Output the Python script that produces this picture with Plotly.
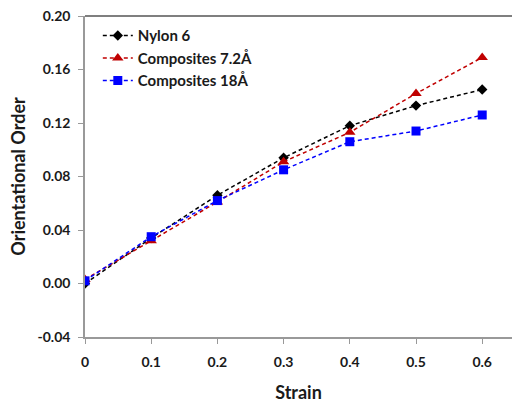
import plotly.graph_objects as go

strain = [0, 0.1, 0.2, 0.3, 0.4, 0.5, 0.6]
nylon6 = [0.000, 0.034, 0.066, 0.094, 0.118, 0.133, 0.145]
comp72 = [0.003, 0.032, 0.061, 0.091, 0.113, 0.142, 0.169]
comp18 = [0.002, 0.035, 0.062, 0.085, 0.106, 0.114, 0.126]

names = ["Nylon 6", "Composites 7.2Å", "Composites 18Å"]
series = [nylon6, comp72, comp18]
colors = ["#000000", "#C00000", "#0000FF"]
symbols = ["diamond", "triangle-up", "square"]
sizes = [8, 10, 9]

xticks = [0, 0.1, 0.2, 0.3, 0.4, 0.5, 0.6]
xticklabels = ["0", "0.1", "0.2", "0.3", "0.4", "0.5", "0.6"]
yticks = [-0.04, 0.0, 0.04, 0.08, 0.12, 0.16, 0.20]
yticklabels = ["-0.04", "0.00", "0.04", "0.08", "0.12", "0.16", "0.20"]

font = "Lato, 'Open Sans', sans-serif"

fig = go.Figure()
for n, s, c, sym, sz in zip(names, series, colors, symbols, sizes):
    fig.add_trace(go.Scatter(
        x=strain, y=s, name=n, mode="lines+markers",
        line=dict(color=c, dash="4px,3px", width=1.5),
        marker=dict(symbol=sym, size=sz, color=c),
    ))

fig.update_layout(
    width=512, height=403,
    margin=dict(l=85, r=0, t=16, b=66),
    plot_bgcolor="white", paper_bgcolor="white",
    font=dict(family=font, size=14, color="#1a1a1a"),
    legend=dict(x=0.03, y=0.99, xanchor="left", yanchor="top",
                bgcolor="rgba(0,0,0,0)",
                font=dict(family=font, size=15, color="#1a1a1a", weight="bold"),
                itemwidth=30, tracegroupgap=0),
    xaxis=dict(range=[0, 0.645], tickvals=xticks, ticktext=xticklabels,
               showgrid=False, zeroline=False, showline=True,
               linecolor="#999999", linewidth=1.5,
               ticks="outside", ticklen=5, tickcolor="#999999",
               ticklabelstandoff=6,
               tickfont=dict(family=font, size=14, weight="bold"),
               title=dict(text="<b>Strain</b>", font=dict(family=font, size=18), standoff=18)),
    yaxis=dict(range=[-0.04, 0.20], tickvals=yticks, ticktext=yticklabels,
               showgrid=False, zeroline=False, showline=True,
               linecolor="#999999", linewidth=1.5,
               ticks="outside", ticklen=5, tickcolor="#999999",
               ticklabelstandoff=5,
               tickfont=dict(family=font, size=14, weight="bold"),
               title=dict(text="<b>Orientational Order</b>", font=dict(family=font, size=18), standoff=7)),
    showlegend=True,
)
fig.add_shape(type="line", xref="paper", yref="paper", x0=0, x1=1, y0=1, y1=1,
              line=dict(color="#555555", width=1.5))

fig.write_html("out.html")
